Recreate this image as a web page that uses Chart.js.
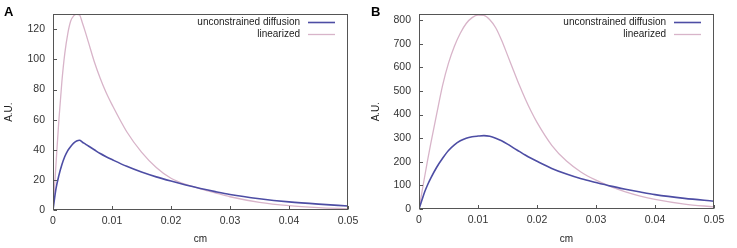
<!DOCTYPE html>
<html>
<head>
<meta charset="utf-8">
<script src="https://cdn.jsdelivr.net/npm/chart.js@4/dist/chart.umd.min.js"></script>
<style>
	html, body { margin: 0; padding: 0; background: #fff; }
	#wrap { position: relative; width: 737px; height: 248px; }
	canvas { position: absolute; top: 0; }
</style>
</head>
<body>
<div id="wrap">
	<canvas id="chart-a" width="367" height="248" style="left:0"></canvas>
	<canvas id="chart-b" width="370" height="248" style="left:367px"></canvas>
</div>
<script>
// ----------------------------------------------
// Data
// ----------------------------------------------
const SERIES_LABELS = ["unconstrained diffusion", "linearized"];
const X_TICKS = [0, 0.01, 0.02, 0.03, 0.04, 0.05];

// panel A
const xA = [0, 0.0005, 0.001, 0.0015, 0.002, 0.0025, 0.003, 0.0035, 0.004, 0.0045, 0.005, 0.0055, 0.006, 0.007, 0.008, 0.009, 0.01, 0.0125, 0.015, 0.0175, 0.02, 0.0225, 0.025, 0.0275, 0.03, 0.035, 0.04, 0.045, 0.05];
const unconstrainedA = [0, 14, 23, 30, 35.5, 39.5, 42.2, 44.4, 45.8, 46.3, 45, 43.8, 42.5, 40, 37.5, 35.4, 33.5, 29, 25.2, 22, 19.2, 16.6, 14.3, 12.2, 10.3, 7.5, 5.4, 3.9, 2.7];
const linearizedA = [0, 30, 60, 85, 104, 117, 125.5, 129, 130, 129.5, 124, 118, 111.5, 98.5, 87.5, 78, 70, 52, 38.5, 28.3, 21.1, 17, 14.1, 11.4, 8.8, 5.1, 2.9, 1.6, 0.8];
const yTicksA = [0, 20, 40, 60, 80, 100, 120];
const yMaxA = 130;

// panel B
const xB = [0, 0.0005, 0.001, 0.0015, 0.002, 0.003, 0.004, 0.005, 0.006, 0.007, 0.008, 0.009, 0.01, 0.011, 0.012, 0.013, 0.014, 0.015, 0.016, 0.017, 0.018, 0.019, 0.02, 0.0225, 0.025, 0.0275, 0.03, 0.0325, 0.035, 0.0375, 0.04, 0.045, 0.05];
const unconstrainedB = [0, 38, 75, 105, 131, 177, 215, 248, 272, 289, 300, 306, 309, 311, 308, 300, 289, 275, 259, 244, 229, 215, 202, 172, 148, 128, 112, 97, 84, 72, 61, 45, 33];
const linearizedB = [0, 72, 143, 212, 278, 403, 524, 618, 690, 745, 786, 811, 822, 820, 802, 768, 715, 652, 588, 525, 467, 414, 367, 270, 203, 156, 122, 95, 73, 55, 41, 21, 9];
const yTicksB = [0, 100, 200, 300, 400, 500, 600, 700, 800];
const yMaxB = 825;

// ----------------------------------------------
// Styles
// ----------------------------------------------
const FONT = "'Liberation Sans', Arial, sans-serif";
const COLOR_DIFFUSION = "#4d4da4";
const COLOR_LINEAR = "#d8b4c9";
const FRAME = "#555";

const toPoints = (xs, ys) => xs.map((x, i) => ({ x, y: ys[i] }));

// frame box, inward tick marks, legend and panel letter
const decorations = {
	id: "decorations",
	afterDatasetsDraw(chart, args, opts) {
		const { ctx, chartArea: a, scales } = chart;
		const l = Math.round(a.left) + 0.5;
		const r = Math.round(a.right) - 0.5;
		const t = Math.round(a.top) + 0.5;
		const b = Math.round(a.bottom) - 0.5;
		ctx.save();
		ctx.strokeStyle = FRAME;
		ctx.lineWidth = 1;
		ctx.strokeRect(l, t, r - l, b - t);
		ctx.beginPath();
		scales.x.ticks.forEach((tk) => {
			const px = Math.round(scales.x.getPixelForValue(tk.value)) + 0.5;
			ctx.moveTo(px, b);
			ctx.lineTo(px, b - 3.5);
		});
		scales.y.ticks.forEach((tk) => {
			const py = Math.round(scales.y.getPixelForValue(tk.value)) + 0.5;
			ctx.moveTo(l, py);
			ctx.lineTo(l + 3.5, py);
		});
		ctx.stroke();

		// legend
		ctx.font = `10px ${FONT}`;
		ctx.textAlign = "right";
		ctx.textBaseline = "middle";
		chart.data.datasets.forEach((ds, i) => {
			const y = a.top + 7.5 + i * 12;
			ctx.fillStyle = "#222";
			ctx.fillText(ds.label, a.right - 48, y);
			ctx.strokeStyle = ds.borderColor;
			ctx.lineWidth = ds.borderWidth;
			ctx.beginPath();
			ctx.moveTo(a.right - 40, Math.round(y) + 0.5);
			ctx.lineTo(a.right - 13, Math.round(y) + 0.5);
			ctx.stroke();
		});

		// panel letter
		ctx.font = `bold 13px ${FONT}`;
		ctx.textAlign = "left";
		ctx.textBaseline = "alphabetic";
		ctx.fillStyle = "#000";
		ctx.fillText(opts.letter, opts.letterX, 16);
		ctx.restore();
	},
};

const makePanel = (canvasId, p) => {
	const CHART_CONFIG = {
		type: "line",
		data: {
			datasets: [
				{
					label: SERIES_LABELS[0],
					data: toPoints(p.xs, p.diffusion),
					borderColor: COLOR_DIFFUSION,
					borderWidth: 1.6,
					pointRadius: 0,
					cubicInterpolationMode: "monotone",
					fill: false,
				},
				{
					label: SERIES_LABELS[1],
					data: toPoints(p.xs, p.linear),
					borderColor: COLOR_LINEAR,
					borderWidth: 1.3,
					pointRadius: 0,
					cubicInterpolationMode: "monotone",
					fill: false,
				},
			],
		},
		options: {
			responsive: false,
			animation: false,
			events: [],
			layout: {
				padding: { top: 13, right: p.padRight, left: 0, bottom: 0 },
			},
			plugins: {
				legend: { display: false },
				tooltip: { enabled: false },
				decorations: { letter: p.letter, letterX: p.letterX },
			},
			scales: {
				x: {
					type: "linear",
					min: 0,
					max: 0.05,
					border: { display: false },
					grid: { display: false, drawTicks: false },
					afterBuildTicks: (s) => {
						s.ticks = X_TICKS.map((v) => ({ value: v }));
					},
					afterFit: (s) => {
						s.height = p.xHeight;
					},
					ticks: {
						padding: 5,
						color: "#333",
						font: { family: FONT, size: 10.5 },
						maxRotation: 0,
						callback: (v) => (v === 0 ? "0" : v.toFixed(2)),
					},
					title: {
						display: true,
						text: "cm",
						color: "#222",
						font: { family: FONT, size: 10 },
						padding: { top: 0, bottom: 3 },
					},
				},
				y: {
					type: "linear",
					min: 0,
					max: p.yMax,
					border: { display: false },
					grid: { display: false, drawTicks: false },
					afterBuildTicks: (s) => {
						s.ticks = p.yTicks.map((v) => ({ value: v }));
					},
					afterFit: (s) => {
						s.width = p.yWidth;
					},
					ticks: {
						padding: 8,
						color: "#333",
						font: { family: FONT, size: 10.5 },
						callback: (v) => String(v),
					},
					title: {
						display: true,
						text: "A.U.",
						color: "#222",
						font: { family: FONT, size: 10 },
						padding: { top: 3, bottom: 0 },
					},
				},
			},
		},
		plugins: [decorations],
	};
	return new Chart(document.getElementById(canvasId), CHART_CONFIG);
};

makePanel("chart-a", {
	xs: xA, diffusion: unconstrainedA, linear: linearizedA,
	yTicks: yTicksA, yMax: yMaxA,
	yWidth: 53, xHeight: 38, padRight: 19,
	letter: "A", letterX: 4,
});
makePanel("chart-b", {
	xs: xB, diffusion: unconstrainedB, linear: linearizedB,
	yTicks: yTicksB, yMax: yMaxB,
	yWidth: 52, xHeight: 39, padRight: 23,
	letter: "B", letterX: 4,
});
</script>
</body>
</html>
